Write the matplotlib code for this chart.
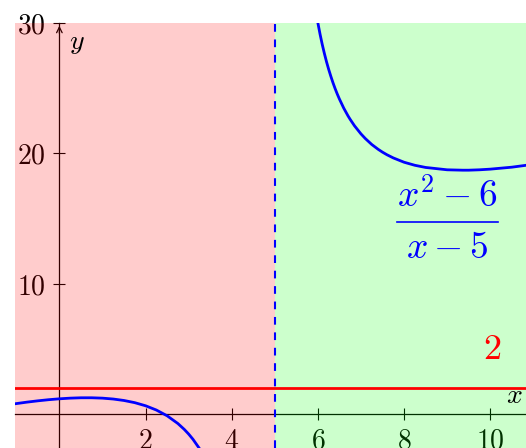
import numpy as np
import matplotlib.pyplot as plt

plt.rcParams['mathtext.fontset'] = 'cm'
plt.rcParams['font.family'] = 'serif'
plt.rcParams['font.serif'] = ['cmr10', 'DejaVu Serif']

# left branch of (x^2-6)/(x-5)
left_x = [-1.05, -0.75, -0.5, -0.25, 0.0, 0.25, 0.5, 0.75, 1.0, 1.25, 1.5,
          1.75, 2.0, 2.25, 2.5, 2.75, 2.9, 3.0, 3.1, 3.25, 3.4, 3.5]
left_y = [0.81, 0.946, 1.045, 1.131, 1.2, 1.25, 1.278, 1.279, 1.25, 1.183, 1.071,
          0.904, 0.667, 0.341, -0.1, -0.694, -1.148, -1.5, -1.9, -2.607, -3.475, -4.167]

# right branch
right_x = [5.9, 5.95, 6.0, 6.05, 6.1, 6.15, 6.2, 6.25, 6.3, 6.35, 6.4, 6.45,
           6.5, 6.6, 6.7, 6.75, 6.85, 7.0, 7.1, 7.25, 7.4, 7.5, 7.6, 7.75,
           8.0, 8.25, 8.5, 9.0, 9.36, 9.5, 9.75, 10.0, 10.5, 11.0]
right_y = [32.01, 30.95, 30.0, 29.145, 28.37, 27.672, 27.03, 26.45, 25.92, 25.424,
           24.97, 24.553, 24.17, 23.475, 22.876, 22.61, 22.12, 21.5, 21.148, 20.69,
           20.317, 20.1, 19.908, 19.66, 19.33, 19.096, 18.93, 18.75, 18.72, 18.72,
           18.75, 18.8, 18.95, 19.17]

asymptote_x = 5
level_y = 2
xticks = [2, 4, 6, 8, 10]
yticks = [10, 20, 30]
xmin, xmax = -1.03, 10.83
ymin, ymax = -2.57, 30

fig = plt.figure(figsize=(5.26, 4.48), dpi=100)
ax = fig.add_axes([15 / 526, 0, 1 - 15 / 526, (448 - 23) / 448])
ax.set_xlim(xmin, xmax)
ax.set_ylim(ymin, ymax)

# axis lines through origin
ax.spines['left'].set_position(('data', 0))
ax.spines['bottom'].set_position(('data', 0))
ax.spines['top'].set_visible(False)
ax.spines['right'].set_visible(False)
for s in ('left', 'bottom'):
    ax.spines[s].set_linewidth(0.9)
ax.annotate('', xy=(0, ymax), xytext=(0, ymax - 1),
            arrowprops=dict(arrowstyle='->', lw=0.9, color='black'),
            annotation_clip=False, zorder=2)

ax.set_xticks(xticks)
ax.set_xticklabels([r'$%d$' % t for t in xticks])
ax.set_yticks(yticks)
ax.set_yticklabels([r'$%d$' % t for t in yticks])
ax.tick_params(direction='inout', length=8, width=0.8, labelsize=20)
ax.tick_params(axis='y', pad=6)
ax.tick_params(axis='x', pad=6)

# shaded regions, drawn over the axes like in the picture
ax.axvspan(xmin - 1, asymptote_x, color=(1, 0, 0), alpha=0.2, lw=0, zorder=3)
ax.axvspan(asymptote_x, xmax + 1, color=(0, 1, 0), alpha=0.2, lw=0, zorder=3)

ax.axvline(asymptote_x, color='blue', lw=1.5, ls=(0, (3.7, 3.7)), zorder=4)
ax.axhline(level_y, color='red', lw=2.0, zorder=4)
ax.plot(left_x, left_y, color='blue', lw=2.0, zorder=5)
ax.plot(right_x, right_y, color='blue', lw=2.0, zorder=5)

ax.text(0.22, 28.5, r'$y$', fontsize=20, ha='left', va='center', zorder=6)
ax.text(10.55, 1.4, r'$x$', fontsize=20, ha='center', va='center', zorder=6)
ax.text(10.04, 4.95, r'$2$', fontsize=26, color='red', ha='center', va='center', zorder=6)

# fraction label built from numerator, bar and denominator
ax.text(9.0, 15.9, r'$x^2-6$', fontsize=27, color='blue',
        ha='center', va='baseline', zorder=6)
ax.plot([7.84, 10.17], [14.75, 14.75], color='blue', lw=1.2, zorder=6)
ax.text(9.0, 12.0, r'$x-5$', fontsize=27, color='blue',
        ha='center', va='baseline', zorder=6)

fig.savefig('out.png', dpi=100)
